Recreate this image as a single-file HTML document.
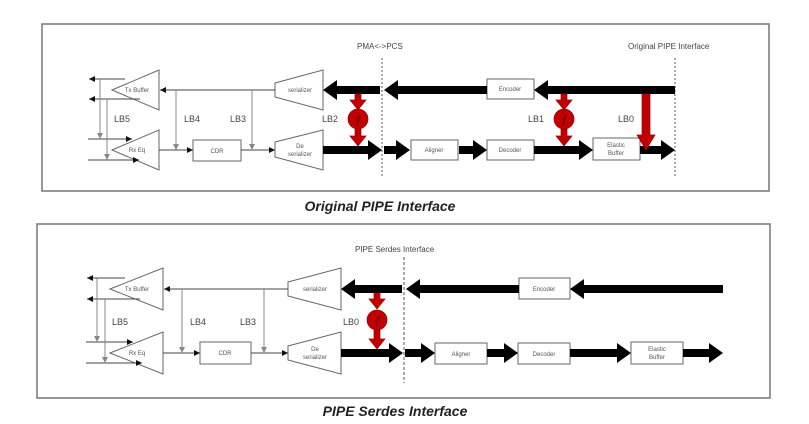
<!DOCTYPE html>
<html><head><meta charset="utf-8"><style>
body{margin:0;background:#fff;}
svg{display:block;font-family:"Liberation Sans",sans-serif;}
.t{font-size:6px;fill:#555;text-anchor:middle}
.l{font-size:9px;fill:#444}
</style></head><body>
<svg width="809" height="424" viewBox="0 0 809 424" xmlns="http://www.w3.org/2000/svg">
<defs>
<marker id="sa" viewBox="0 0 6 6" refX="6" refY="3" markerWidth="6" markerHeight="6" orient="auto" markerUnits="userSpaceOnUse"><path d="M0,0L6,3L0,6z" fill="#111"/></marker>
<marker id="ga" viewBox="0 0 6 6" refX="6" refY="3" markerWidth="6" markerHeight="6" orient="auto" markerUnits="userSpaceOnUse"><path d="M0,0L6,3L0,6z" fill="#888"/></marker>
</defs>
<!-- TOP PANEL -->
<rect x="42" y="24" width="727" height="167" fill="none" stroke="#777" stroke-width="1.5"/>
<text x="357" y="49" font-size="8" fill="#444">PMA&lt;-&gt;PCS</text>
<text x="628" y="49" font-size="8" fill="#444">Original PIPE Interface</text>
<line x1="382" y1="58" x2="382" y2="178" stroke="#555" stroke-dasharray="2,2"/>
<line x1="675" y1="58" x2="675" y2="178" stroke="#555" stroke-dasharray="2,2"/>
<g stroke="#666" fill="#fff" stroke-width="1">
<polygon points="112,90 159,70 159,110"/>
<polygon points="112,150 159,130 159,170"/>
<polygon points="275,83 323,70 323,110 275,97"/>
<polygon points="275,142 323,130 323,170 275,157"/>
<rect x="193" y="140" width="48" height="21"/>
<rect x="487" y="79" width="47" height="20"/>
<rect x="411" y="140" width="47" height="20"/>
<rect x="487" y="140" width="47" height="20"/>
<rect x="593" y="138" width="47" height="22"/>
</g>
<text class="t" x="137" y="92">Tx Buffer</text>
<text class="t" x="137" y="152">Rx Eq</text>
<text class="t" x="300" y="92">serializer</text>
<text class="t" x="300" y="148">De</text><text class="t" x="300" y="156">serializer</text>
<text class="t" x="217" y="153">CDR</text>
<text class="t" x="510" y="91">Encoder</text>
<text class="t" x="434" y="152">Aligner</text>
<text class="t" x="510" y="152">Decoder</text>
<text class="t" x="616" y="147">Elastic</text><text class="t" x="616" y="155">Buffer</text>
<g stroke="#444" stroke-width="1">
<line x1="275" y1="90" x2="160" y2="90" marker-end="url(#sa)"/>
<line x1="125" y1="79" x2="89" y2="79" marker-end="url(#sa)"/>
<line x1="140" y1="99" x2="89" y2="99" marker-end="url(#sa)"/>
<line x1="88" y1="139" x2="132" y2="139" marker-end="url(#sa)"/>
<line x1="88" y1="160" x2="139" y2="160" marker-end="url(#sa)"/>
<line x1="159" y1="150" x2="193" y2="150" marker-end="url(#sa)"/>
<line x1="241" y1="150" x2="275" y2="150" marker-end="url(#sa)"/>
</g>
<g stroke="#888" stroke-width="1">
<line x1="100" y1="79" x2="100" y2="139" marker-end="url(#ga)"/>
<line x1="107" y1="99" x2="107" y2="160" marker-end="url(#ga)"/>
<line x1="176" y1="90" x2="176" y2="150" marker-end="url(#ga)"/>
<line x1="252" y1="90" x2="252" y2="150" marker-end="url(#ga)"/>
</g>
<text class="l" x="114" y="122">LB5</text>
<text class="l" x="184" y="122">LB4</text>
<text class="l" x="230" y="122">LB3</text>
<text class="l" x="322" y="122">LB2</text>
<text class="l" x="528" y="122">LB1</text>
<text class="l" x="618" y="122">LB0</text>
<g fill="#000">
<polygon points="380,86 337,86 337,80 323,90 337,100 337,94 380,94"/>
<polygon points="487,86 398,86 398,80 384,90 398,100 398,94 487,94"/>
<polygon points="675,86 548,86 548,80 534,90 548,100 548,94 675,94"/>
<polygon points="323,146 368,146 368,140 382,150 368,160 368,154 323,154"/>
<polygon points="384,146 396,146 396,140 410,150 396,160 396,154 384,154"/>
<polygon points="459,146 473,146 473,140 487,150 473,160 473,154 459,154"/>
<polygon points="534,146 579,146 579,140 593,150 579,160 579,154 534,154"/>
<polygon points="640,146 661,146 661,140 675,150 661,160 661,154 640,154"/>
</g>
<g fill="#c00000" stroke="#900" stroke-width="0.7">
<polygon points="355,94 361,94 361,100 366,100 358,110 350,100 355,100"/>
<circle cx="358" cy="119" r="10"/>
<polygon points="355,129 361,129 361,136 366,136 358,146 350,136 355,136"/>
<polygon points="561,94 567,94 567,100 572,100 564,110 556,100 561,100"/>
<circle cx="564" cy="119" r="10"/>
<polygon points="561,129 567,129 567,136 572,136 564,146 556,136 561,136"/>
<polygon points="642,94 650,94 650,135 655,135 646,150 637,135 642,135"/>
</g>
<text x="358" y="123" font-size="11" font-style="italic" font-family="Liberation Serif" fill="#300" text-anchor="middle">f</text>
<text x="564" y="123" font-size="11" font-style="italic" font-family="Liberation Serif" fill="#300" text-anchor="middle">f</text>
<text x="380" y="211" font-size="14" font-weight="bold" font-style="italic" fill="#222" text-anchor="middle">Original PIPE Interface</text>

<!-- BOTTOM PANEL -->
<rect x="37" y="224" width="733" height="174" fill="none" stroke="#777" stroke-width="1.5"/>
<text x="355" y="252" font-size="8" fill="#444">PIPE Serdes Interface</text>
<line x1="404" y1="257" x2="404" y2="383" stroke="#555" stroke-dasharray="3,2"/>
<g stroke="#666" fill="#fff" stroke-width="1">
<polygon points="110,289 163,268 163,310"/>
<polygon points="110,353 163,332 163,374"/>
<polygon points="288,282 341,268 341,310 288,296"/>
<polygon points="288,346 341,332 341,374 288,360"/>
<rect x="200" y="342" width="51" height="22"/>
<rect x="519" y="278" width="51" height="21"/>
<rect x="435" y="343" width="52" height="21"/>
<rect x="518" y="343" width="52" height="21"/>
<rect x="631" y="342" width="52" height="22"/>
</g>
<text class="t" x="137" y="291">Tx Buffer</text>
<text class="t" x="137" y="355">Rx Eq</text>
<text class="t" x="315" y="291">serializer</text>
<text class="t" x="315" y="351">De</text><text class="t" x="315" y="359">serializer</text>
<text class="t" x="225" y="355">CDR</text>
<text class="t" x="544" y="291">Encoder</text>
<text class="t" x="461" y="356">Aligner</text>
<text class="t" x="544" y="356">Decoder</text>
<text class="t" x="657" y="351">Elastic</text><text class="t" x="657" y="359">Buffer</text>
<g stroke="#444" stroke-width="1">
<line x1="288" y1="289" x2="164" y2="289" marker-end="url(#sa)"/>
<line x1="125" y1="278" x2="87" y2="278" marker-end="url(#sa)"/>
<line x1="140" y1="299" x2="87" y2="299" marker-end="url(#sa)"/>
<line x1="86" y1="342" x2="133" y2="342" marker-end="url(#sa)"/>
<line x1="86" y1="363" x2="142" y2="363" marker-end="url(#sa)"/>
<line x1="163" y1="353" x2="200" y2="353" marker-end="url(#sa)"/>
<line x1="251" y1="353" x2="288" y2="353" marker-end="url(#sa)"/>
</g>
<g stroke="#888" stroke-width="1">
<line x1="97" y1="278" x2="97" y2="342" marker-end="url(#ga)"/>
<line x1="105" y1="299" x2="105" y2="363" marker-end="url(#ga)"/>
<line x1="182" y1="289" x2="182" y2="353" marker-end="url(#ga)"/>
<line x1="264" y1="289" x2="264" y2="353" marker-end="url(#ga)"/>
</g>
<text class="l" x="112" y="325">LB5</text>
<text class="l" x="190" y="325">LB4</text>
<text class="l" x="240" y="325">LB3</text>
<text class="l" x="343" y="325">LB0</text>
<g fill="#000">
<polygon points="402,285 355,285 355,279 341,289 355,299 355,293 402,293"/>
<polygon points="519,285 420,285 420,279 406,289 420,299 420,293 519,293"/>
<polygon points="723,285 584,285 584,279 570,289 584,299 584,293 723,293"/>
<polygon points="341,349 389,349 389,343 403,353 389,363 389,357 341,357"/>
<polygon points="405,349 421,349 421,343 435,353 421,363 421,357 405,357"/>
<polygon points="487,349 504,349 504,343 518,353 504,363 504,357 487,357"/>
<polygon points="570,349 617,349 617,343 631,353 617,363 617,357 570,357"/>
<polygon points="683,349 709,349 709,343 723,353 709,363 709,357 683,357"/>
</g>
<g fill="#c00000" stroke="#900" stroke-width="0.7">
<polygon points="374,293 380,293 380,299 385,299 377,309 369,299 374,299"/>
<circle cx="377" cy="320" r="10"/>
<polygon points="374,330 380,330 380,339 385,339 377,349 369,339 374,339"/>
</g>
<text x="377" y="324" font-size="11" font-style="italic" font-family="Liberation Serif" fill="#300" text-anchor="middle">f</text>
<text x="395" y="416" font-size="14" font-weight="bold" font-style="italic" fill="#222" text-anchor="middle">PIPE Serdes  Interface</text>
</svg>
</body></html>
